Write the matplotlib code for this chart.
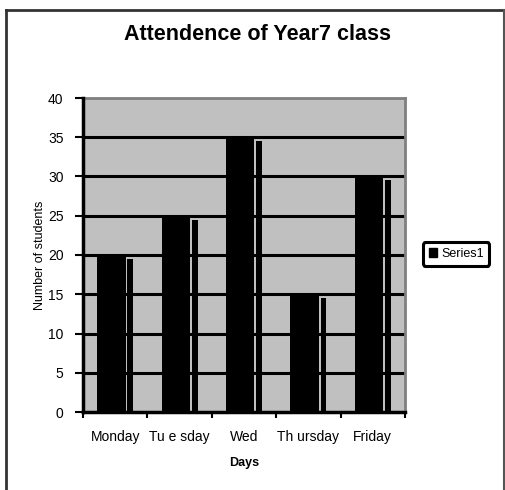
import matplotlib
matplotlib.use("Agg")
import matplotlib.pyplot as plt
from matplotlib.patches import Rectangle
from matplotlib.lines import Line2D
import numpy as np

days = ["Monday", "Tu e sday", "Wed", "Th ursday", "Friday"]
attendance = [20, 25, 35, 15, 30]
yticks = [0, 5, 10, 15, 20, 25, 30, 35, 40]
series_name = "Series1"
y_label = "Number of students"

plt.rcParams['font.family'] = ['Liberation Sans', 'DejaVu Sans']

fig = plt.figure(figsize=(5.06, 4.90), dpi=100)
ax = fig.add_axes([83/506, 1-412/490, (405-83)/506, (412-98)/490])
ax.set_facecolor('#C0C0C0')

x = np.arange(len(days))
# main bars
ax.bar(x - 0.06, attendance, width=0.44, color='black', zorder=3)
# shadow stripes (right side)
ax.bar(x + 0.235, np.array(attendance) - 0.5, width=0.09, color='black', zorder=3)

ax.set_xlim(-0.5, len(days) - 0.5)
ax.set_ylim(0, 40)
ax.set_yticks(yticks)
ax.set_yticklabels([str(v) for v in yticks], fontsize=10)
for v in yticks[1:-1]:
    ax.axhline(v, color='black', lw=2.2, zorder=2)

ax.set_xticks(np.arange(len(days) + 1) - 0.5)
ax.set_xticklabels([])
ax.set_xticks(x, minor=True)
ax.set_xticklabels(days, minor=True, fontsize=10)
ax.tick_params(axis='x', which='minor', length=0, pad=13)
ax.tick_params(axis='x', which='major', length=4, width=1.5, direction='out')
ax.tick_params(axis='y', length=6, width=1.5, direction='out', pad=8)

for s in ['left', 'bottom']:
    ax.spines[s].set_color('black')
    ax.spines[s].set_linewidth(2.5)
    ax.spines[s].set_zorder(5)
for s in ['top', 'right']:
    ax.spines[s].set_color('#808080')
    ax.spines[s].set_linewidth(2)

ax.set_xlabel("Days", fontsize=9, fontweight='bold', labelpad=9)

fig.text(40/506, 1-255/490, y_label, rotation=90, fontsize=9,
         ha='center', va='center')

fig.text(258/506, 1-34/490, "Attendence of Year7 class", fontsize=15.5,
         fontweight='bold', ha='center', va='center')

# outer frame
fig.add_artist(Line2D([6/506, 6/506], [0, 1-10/490], color='#333333', lw=2, transform=fig.transFigure))
fig.add_artist(Line2D([6/506, 504/506], [1-10/490, 1-10/490], color='#333333', lw=2, transform=fig.transFigure))
fig.add_artist(Line2D([504/506, 504/506], [0, 1-10/490], color='#555555', lw=1.5, transform=fig.transFigure))

# legend
leg = ax.legend([Rectangle((0, 0), 1, 1, color='black')], [series_name],
                loc='center left', bbox_to_anchor=(423/506, 1-254/490),
                bbox_transform=fig.transFigure, fontsize=9, frameon=True,
                fancybox=True, handlelength=0.7, handleheight=0.7,
                handletextpad=0.3, borderpad=0.45, borderaxespad=0)
leg.get_frame().set_edgecolor('black')
leg.get_frame().set_linewidth(2.2)
leg.get_frame().set_alpha(1)

fig.savefig("out.png", dpi=100)
